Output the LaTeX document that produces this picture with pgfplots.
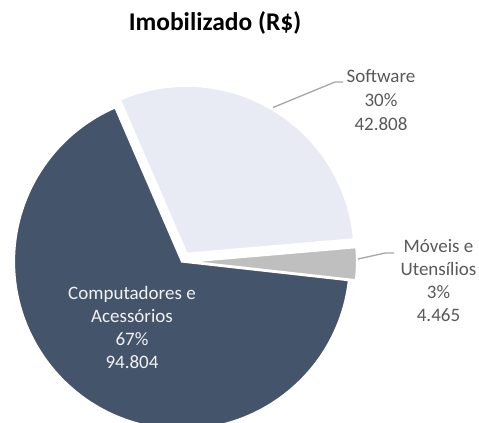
\documentclass[border=0pt]{standalone}
\usepackage{pgfplots}
\usepackage{pgfplotstable}
\pgfplotsset{compat=1.18}
\usepackage{fontspec}
\setmainfont{Carlito}
\definecolor{cDark}{HTML}{44546A}
\definecolor{cLight}{HTML}{E8EAF4}
\definecolor{cGrey}{HTML}{BFBFBF}
\definecolor{cLead}{HTML}{A6A6A6}
\definecolor{cText}{HTML}{595959}
\definecolor{cIn}{HTML}{F2F2F2}

\pgfplotstableread{
name value
Software 42808
Moveis 4465
Computadores 94804
}\imobdata

\pgfplotstablegetelem{0}{value}\of\imobdata \edef\vS{\pgfplotsretval}
\pgfplotstablegetelem{1}{value}\of\imobdata \edef\vM{\pgfplotsretval}
\pgfplotstablegetelem{2}{value}\of\imobdata \edef\vC{\pgfplotsretval}
\edef\tot{\fpeval{\vS+\vM+\vC}}
\def\st{113.4}
\edef\eS{\fpeval{\st-360*\vS/\tot}}
\edef\eM{\fpeval{\eS-360*\vM/\tot}}
\edef\eC{\fpeval{\eM-360*\vC/\tot}}
\edef\mS{\fpeval{(\st+\eS)/2}}
\edef\mM{\fpeval{(\eS+\eM)/2}}
\def\cx{182}\def\cy{261.5}
\edef\sx{\fpeval{\cx+9*cosd(\mS)}}
\edef\sy{\fpeval{\cy-9*sind(\mS)}}
\edef\mx{\fpeval{\cx+7*cosd(\mM)}}
\edef\my{\fpeval{\cy-7*sind(\mM)}}

\newcommand{\lab}{\fontsize{19bp}{23.5bp}\selectfont}
\begin{document}
\begin{tikzpicture}
\begin{axis}[
  width=479bp, height=423bp, scale only axis,
  xmin=0, xmax=479, ymin=0, ymax=423, y dir=reverse,
  hide axis, clip=true,
]
% slices
\filldraw[fill=cDark, draw=white, line width=2.2bp]
  (axis cs:\cx,\cy) -- ++(\eM:168bp) arc[start angle=\eM, end angle=\eC, radius=168bp] -- cycle;
\filldraw[fill=cLight, draw=white, line width=2.2bp]
  (axis cs:\sx,\sy) -- ++(\st:168bp) arc[start angle=\st, end angle=\eS, radius=168bp] -- cycle;
\filldraw[fill=cGrey, draw=white, line width=2.2bp]
  (axis cs:\mx,\my) -- ++(\eS:168bp) arc[start angle=\eS, end angle=\eM, radius=168bp] -- cycle;
% leader lines
\draw[cLead, line width=1.3bp] (axis cs:273,107.5) -- (axis cs:335,82) -- (axis cs:343,82);
\draw[cLead, line width=1.3bp] (axis cs:358,259) -- (axis cs:385,253) -- (axis cs:394,253);
% title
\node[anchor=base, font=\fontsize{25.5bp}{30bp}\selectfont\bfseries, text=black] at (axis cs:215,31) {Imobilizado (R\$)};
% Software label
\node[anchor=base, font=\lab, text=cText] at (axis cs:381,83) {Software};
\node[anchor=base, font=\lab, text=cText] at (axis cs:381,106.5) {30\%};
\node[anchor=base, font=\lab, text=cText] at (axis cs:381,130) {42.808};
% Moveis label
\node[anchor=base, font=\lab, text=cText] at (axis cs:438.5,252) {Móveis e};
\node[anchor=base, font=\lab, text=cText] at (axis cs:438.5,275) {Utensílios};
\node[anchor=base, font=\lab, text=cText] at (axis cs:438.5,298) {3\%};
\node[anchor=base, font=\lab, text=cText] at (axis cs:438.5,321) {4.465};
% Computadores label
\node[anchor=base, font=\lab, text=cIn] at (axis cs:132,299) {Computadores e};
\node[anchor=base, font=\lab, text=cIn] at (axis cs:132,322) {Acessórios};
\node[anchor=base, font=\lab, text=cIn] at (axis cs:132,345) {67\%};
\node[anchor=base, font=\lab, text=cIn] at (axis cs:132,368) {94.804};
\end{axis}
\pgfresetboundingbox
\path[use as bounding box] (current axis.south west) rectangle (current axis.north east);
\end{tikzpicture}
\end{document}
